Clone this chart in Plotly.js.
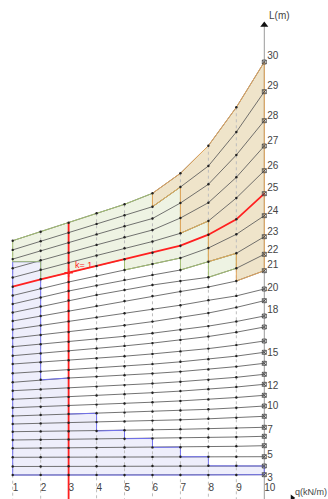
<!DOCTYPE html>
<html><head><meta charset="utf-8">
<script src="https://cdn.plot.ly/plotly-3.0.1.min.js"></script>
<style>html,body{margin:0;padding:0;background:#fff;} #chart{width:328px;height:499px;}</style>
</head><body><div id="chart"></div>
<script>
// q values (kN/m) of the columns
const qValues = [1,2,3,4,5,6,7,8,9,10];
// curve ids (value at right end)
const curveIds = [3,4,5,6,7,8,9,10,11,12,13,14,15,16,17,18,19,20,21,22,23,24,25,26,27,28,29,30];
// curve positions on the (unscaled) vertical nomogram axis, one entry per q
const yL3  = [475,475,475,475,475,475,475,475,475,474.7];
const yL4  = [466.5,466.5,466.3,466.2,466.1,466,466,465.8,465.8,466];
const yL5  = [457.3,457.2,457.1,457,457,456.9,456.8,456.7,456.7,456.7];
const yL6  = [448.3,448.1,447.9,447.7,447.5,447.4,447.2,446.8,446.3,445.7];
const yL7  = [440,439.7,439.4,439.1,438.7,438.4,438,437.5,437,436.3];
const yL8  = [431.7,431.4,431.2,431,430.2,429.8,429.3,428.8,428.1,427.3];
const yL9  = [424,423.4,422.8,422.1,421.4,420.6,419.8,418.8,417.7,416.3];
const yL10 = [416,415,414,413.3,412.6,411.6,410.5,409.3,407.8,406];
const yL11 = [407.7,406.7,405.7,404.6,403.5,402.2,400.9,399.4,397.5,395.3];
const yL12 = [399.3,398.1,396.9,395.5,394.2,392.7,391.1,389.3,387,384.3];
const yL13 = [390.7,389.4,388.1,386.6,385.1,383.5,381.7,379.7,377.3,374.3];
const yL14 = [382.3,379.8,378,376.6,375.2,373.5,371.6,369.4,366.6,363.3];
const yL15 = [373.3,371.6,369.9,368,366.2,364.1,361.8,359.2,356.1,352.3];
const yL16 = [364,362.2,360.3,358.3,356.2,353.9,351.4,348.6,345.1,341];
const yL17 = [355.7,353.4,351.1,348.5,345.9,343.1,339.9,336.5,332.2,327];
const yL18 = [346.7,344.2,341.8,339,336.3,333.2,329.8,326.1,321.5,316];
const yL19 = [338,335,332,328.7,325.3,321.6,317.5,313,307.4,300.7];
const yL20 = [329.5,325.5,321.4,317.4,313.3,309.3,305.2,300.3,295.9,289];
const yL21 = [321,316,311,306,301,296,291.5,287,281,270.7];
const yL22 = [312.5,306.5,300.5,295,290,285,281,277.3,268.3,254.3];
const yL23 = [304,297.5,291,285.5,280,275,270,261.7,253.3,236.7];
const yL24 = [295.5,288.5,282,276,270,264,258,248,234.3,215.7];
const yL25 = [286.7,279.3,272.7,266,259.3,252.7,245.7,234.7,219.3,193.7];
const yL26 = [277.5,269.8,262.7,255.5,248.3,241.5,233.3,221,198,170.7];
const yL27 = [268.3,260.2,252.7,244.9,237.3,230,218,202.7,177.3,146];
const yL28 = [259.1,250.7,242.7,234.4,226.3,218.5,203,184.3,155,120.7];
const yL29 = [249.9,241.2,232.7,223.9,215.3,206.7,187,166,132,91.7];
const yL30 = [240.7,231.7,222.7,213.3,204.3,193.3,173.3,145.7,107.3,62];
const curves = [yL3,yL4,yL5,yL6,yL7,yL8,yL9,yL10,yL11,yL12,yL13,yL14,yL15,yL16,yL17,yL18,yL19,yL20,yL21,yL22,yL23,yL24,yL25,yL26,yL27,yL28,yL29,yL30];
const redCurveId = 25;
const kValueQ = 3;
const kLabel = 'k= 1';
// regions: per q-interval [upper curve id, lower curve id]; 0 = flat level blueFlatTop
const blueFlatTop = 261.7;
const blueSteps   = [[0,3],[14,3],[10,3],[8,3],[7,3],[6,3],[5,3],[4,3],[4,3]];
const greenSteps  = [[30,0],[30,25],[30,25],[30,25],[30,24],[29,24],[26,23],[23,22]];
const orangeStart = 5;
const orangeSteps = [[30,29],[30,26],[30,23],[30,21]];
// right-hand L labels
const lTickText = ['30','29','28','27','26','25','24','23','22','21','20','18','15','12','10','7','5','3'];
const lTickVals = [55.7,85,115,140,165,187,210.7,231,249,264.7,287.5,309.5,352.3,385.2,405.8,429.5,454.3,477];
const bottomY = 499;

function Y(id, i){ return id === 0 ? blueFlatTop : curves[id-3][i]; }
function region(start, steps){
  const xs=[], ys=[];
  steps.forEach((s,k)=>{ const i=start+k; xs.push(qValues[i],qValues[i+1]); ys.push(Y(s[0],i),Y(s[0],i+1)); });
  for(let k=steps.length-1;k>=0;k--){ const i=start+k, s=steps[k]; xs.push(qValues[i+1],qValues[i]); ys.push(Y(s[1],i+1),Y(s[1],i)); }
  xs.push(xs[0]); ys.push(ys[0]);
  return {xs, ys};
}
const blue = region(0, blueSteps), green = region(0, greenSteps), orange = region(orangeStart, orangeSteps);
const traces = [];
function fillTrace(r, fc){ return {x:r.xs, y:r.ys, mode:'lines', fill:'toself', fillcolor:fc, line:{width:0}, hoverinfo:'skip'}; }
function edgeTrace(r, lc){ return {x:r.xs, y:r.ys, mode:'lines', line:{color:lc,width:1}, hoverinfo:'skip'}; }
traces.push(fillTrace(blue,'#eeeefb'), fillTrace(green,'#eef3e3'), fillTrace(orange,'#efe4ca'));
// dotted grid
const gx=[], gy=[];
qValues.slice(0,9).forEach((qv,i)=>{ gx.push(qv,qv,null); gy.push(yL30[i],bottomY,null); });
traces.push({x:gx,y:gy,mode:'lines',line:{color:'#bdbdbd',width:1,dash:'dot'},hoverinfo:'skip'});
// y axis line
traces.push({x:[10,10],y:[24,bottomY],mode:'lines',line:{color:'#9a9a9a',width:1},hoverinfo:'skip'});
// curves
const cx=[], cy=[];
curves.forEach((c,j)=>{ if(curveIds[j]===redCurveId) return; qValues.forEach((qv,i)=>{cx.push(qv);cy.push(c[i]);}); cx.push(null); cy.push(null); });
traces.push({x:cx,y:cy,mode:'lines',line:{color:'#5a5a5a',width:0.85},hoverinfo:'skip'});
traces.push(edgeTrace(blue,'#7070ee'), edgeTrace(green,'#a3bf72'), edgeTrace(orange,'#e2a55c'));
// red curve and k line
const redY = curves[redCurveId-3];
traces.push({x:qValues,y:redY,mode:'lines',line:{color:'#ff2020',width:1.8},hoverinfo:'skip'});
const ki = qValues.indexOf(kValueQ);
traces.push({x:[kValueQ,kValueQ],y:[yL30[ki],bottomY],mode:'lines',line:{color:'#ff2020',width:1.8},hoverinfo:'skip'});
// dots
const dx=[], dy=[], ex=[], ey=[];
curves.forEach(c=>{ qValues.forEach((qv,i)=>{ if(i<9){dx.push(qv);dy.push(c[i]);} else {ex.push(qv);ey.push(c[i]);} }); });
traces.push({x:dx,y:dy,mode:'markers',marker:{size:2.4,color:'#222'},hoverinfo:'skip'});
traces.push({x:ex,y:ey,mode:'markers',marker:{symbol:'square-x-open',size:4,color:'#444',line:{width:0.8}},hoverinfo:'skip'});
traces.push({x:[kValueQ],y:[redY[ki]],mode:'markers',marker:{symbol:'cross-thin-open',size:6,color:'#ff2020',line:{width:1.5,color:'#ff2020'}},hoverinfo:'skip'});
// bottom axis markers and arrows
traces.push({x:qValues,y:qValues.map(()=>502),mode:'markers',cliponaxis:false,marker:{symbol:'square-x-open',size:4,color:'#888',line:{width:0.8}},hoverinfo:'skip'});
traces.push({x:[10],y:[25],mode:'markers',marker:{symbol:'triangle-up',size:7,color:'#111'},hoverinfo:'skip'});
traces.push({x:[11.0],y:[498],mode:'markers',cliponaxis:false,marker:{symbol:'triangle-right',size:6,color:'#111'},hoverinfo:'skip'});
// label axis (y2)
traces.push({x:[10],y:[bottomY],yaxis:'y2',mode:'markers',marker:{size:1,opacity:0},hoverinfo:'skip'});

const layout = {
  width:328, height:499, margin:{l:0,r:0,t:0,b:0}, showlegend:false,
  paper_bgcolor:'#fff', plot_bgcolor:'#fff',
  font:{family:'Liberation Sans, Arial, sans-serif', size:10, color:'#444'},
  xaxis:{range:[0.5457,12.2786], showgrid:false, zeroline:false, showline:false,
         tickvals:qValues, ticktext:qValues.map(String), ticks:'', ticklabelposition:'inside right',
         tickfont:{size:10,color:'#444'}},
  yaxis:{range:[bottomY,0], visible:false},
  yaxis2:{range:[bottomY,0], overlaying:'y', anchor:'free', position:0.8058, side:'right',
          showgrid:false, zeroline:false, showline:false, ticks:'', tickvals:lTickVals, ticktext:lTickText,
          ticklabelstandoff:2, tickfont:{size:10,color:'#444'}},
  annotations:[
    {x:10.1,y:15,xref:'x',yref:'y',text:'L(m)',showarrow:false,xanchor:'left',font:{size:10,color:'#444'}},
    {x:11.08,y:492,xref:'x',yref:'y',text:'q(kN/m)',showarrow:false,xanchor:'left',borderpad:0,font:{size:9,color:'#444'}},
    {x:3.2,y:264.5,xref:'x',yref:'y',text:kLabel,showarrow:false,xanchor:'left',borderpad:0,font:{size:9,color:'#ff2020'}}
  ]
};
Plotly.newPlot('chart', traces, layout, {staticPlot:true, displayModeBar:false});
</script></body></html>
